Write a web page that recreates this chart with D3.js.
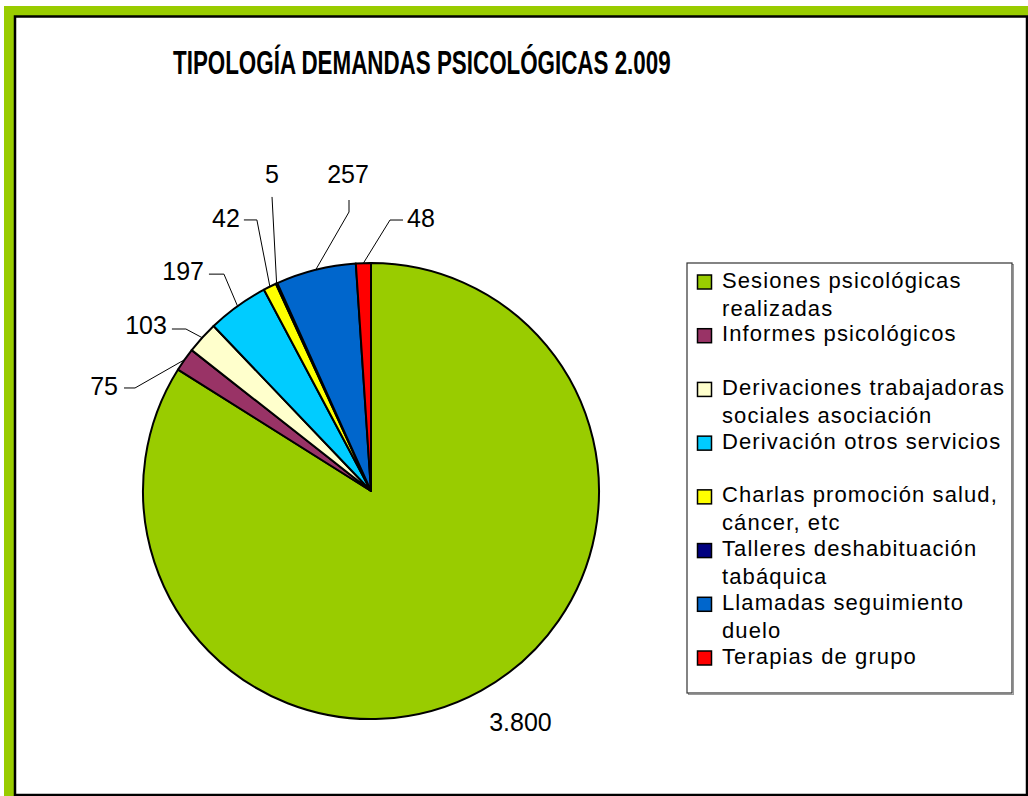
<!DOCTYPE html>
<html>
<head>
<meta charset="utf-8">
<script src="https://cdn.jsdelivr.net/npm/d3@7"></script>
<style>
  html, body { margin: 0; padding: 0; background: #fff; }
  svg { display: block; }
  text { font-family: "Liberation Sans", Arial, sans-serif; fill: #000; }
</style>
</head>
<body>
<svg id="chart" width="1028" height="796"></svg>
<script>
// ---- data ----
const categories = [
  "Sesiones psicológicas realizadas",
  "Informes psicológicos",
  "Derivaciones trabajadoras sociales asociación",
  "Derivación otros servicios",
  "Charlas promoción salud, cáncer, etc",
  "Talleres deshabituación tabáquica",
  "Llamadas seguimiento duelo",
  "Terapias de grupo"
];
const values = [3800, 75, 103, 197, 42, 5, 257, 48];
const valueLabels = ["3.800", "75", "103", "197", "42", "5", "257", "48"];
const legendLines = [
  ["Sesiones psicológicas", "realizadas"],
  ["Informes psicológicos"],
  ["Derivaciones trabajadoras", "sociales asociación"],
  ["Derivación otros servicios"],
  ["Charlas promoción salud,", "cáncer, etc"],
  ["Talleres deshabituación", "tabáquica"],
  ["Llamadas seguimiento", "duelo"],
  ["Terapias de grupo"]
];
const colors = ["#99CC00", "#993366", "#FFFFCC", "#00CCFF", "#FFFF00", "#000080", "#0066CC", "#FF0000"];
const titleText = "TIPOLOGÍA DEMANDAS PSICOLÓGICAS 2.009";

// ---- layout (label placement, relative to each slice's outer edge point) ----
// leader: list of [dx,dy] points after the edge point; text: [dx,dy,anchor]
const labelLayout = [
  { leader: [], text: [8, 40, "start"] },
  { leader: [[-49.6, 28.3], [-60.6, 28.3]], text: [-66.6, 35.3, "end"] },
  { leader: [[-16.3, -8.7], [-30.3, -8.7]], text: [-35.3, -3.7, "end"] },
  { leader: [[-13.6, -32], [-28.6, -32]], text: [-33.6, -26, "end"] },
  { leader: [[-13, -66.7], [-26, -66.7]], text: [-30, -59.7, "end"] },
  { leader: [[-4.6, -86.5]], text: [-4.6, -100.5, "middle"] },
  { leader: [[33.3, -57.8], [33.3, -69.8]], text: [32.3, -86.8, "middle"] },
  { leader: [[26.6, -43.1], [39.6, -43.1]], text: [43.6, -36.1, "start"] }
];

const svg = d3.select("#chart");

// frame
svg.append("rect").attr("x", 4).attr("y", 6).attr("width", 1024).attr("height", 790).attr("fill", "#99CC00");
svg.append("rect").attr("x", 15).attr("y", 16.5).attr("width", 1012).attr("height", 778.5)
  .attr("fill", "#fff").attr("stroke", "#000").attr("stroke-width", 2.5);

// title
const title = svg.append("text")
  .attr("font-family", "'Liberation Sans Narrow', 'Liberation Sans', Arial, sans-serif")
  .attr("font-weight", "bold").attr("font-size", 34)
  .text(titleText);
const tl = title.node().getComputedTextLength();
title.attr("transform", `translate(173,74) scale(${498 / tl},1)`);

// pie
const cx = 371, cy = 491, r = 228;
const pie = d3.pie().sort(null).value(d => d)(values);
const arc = d3.arc().innerRadius(0).outerRadius(r);
const edgeArc = d3.arc().innerRadius(r).outerRadius(r);
const g = svg.append("g").attr("transform", `translate(${cx},${cy})`);

g.selectAll("path.slice").data(pie).join("path")
  .attr("class", "slice")
  .attr("d", arc)
  .attr("fill", (d, i) => colors[i])
  .attr("stroke", "#000").attr("stroke-width", 2).attr("stroke-linejoin", "round");

// labels + leaders
pie.forEach((d, i) => {
  const [ex, ey] = edgeArc.centroid(d);
  const L = labelLayout[i];
  if (L.leader.length) {
    const pts = [[ex, ey]].concat(L.leader.map(p => [ex + p[0], ey + p[1]]));
    g.append("path").attr("d", d3.line()(pts))
      .attr("fill", "none").attr("stroke", "#000").attr("stroke-width", 1);
  }
  g.append("text")
    .attr("x", ex + L.text[0]).attr("y", ey + L.text[1])
    .attr("text-anchor", L.text[2])
    .attr("font-size", 25)
    .text(valueLabels[i]);
});

// legend
const lx = 687, ly = 263, lw = 325, lh = 430;
svg.append("rect").attr("x", lx + 1.5).attr("y", ly + 1.5).attr("width", lw).attr("height", lh)
  .attr("fill", "none").attr("stroke", "#999").attr("stroke-width", 1);
svg.append("rect").attr("x", lx).attr("y", ly).attr("width", lw).attr("height", lh)
  .attr("fill", "#fff").attr("stroke", "#333").attr("stroke-width", 1.2);

const ys = d3.scalePoint().domain(categories).range([282, 658]);
const lg = svg.append("g");
categories.forEach((c, i) => {
  const y = ys(c);
  lg.append("rect").attr("x", 697.5).attr("y", y - 7).attr("width", 14).attr("height", 14)
    .attr("fill", colors[i]).attr("stroke", "#000").attr("stroke-width", 1.5);
  const t = lg.append("text").attr("x", 722).attr("y", y + 5.5)
    .attr("font-size", 22).attr("letter-spacing", 1.1);
  legendLines[i].forEach((line, k) => {
    t.append("tspan").attr("x", 722).attr("dy", k === 0 ? 0 : 28).text(line);
  });
});
</script>
</body>
</html>
